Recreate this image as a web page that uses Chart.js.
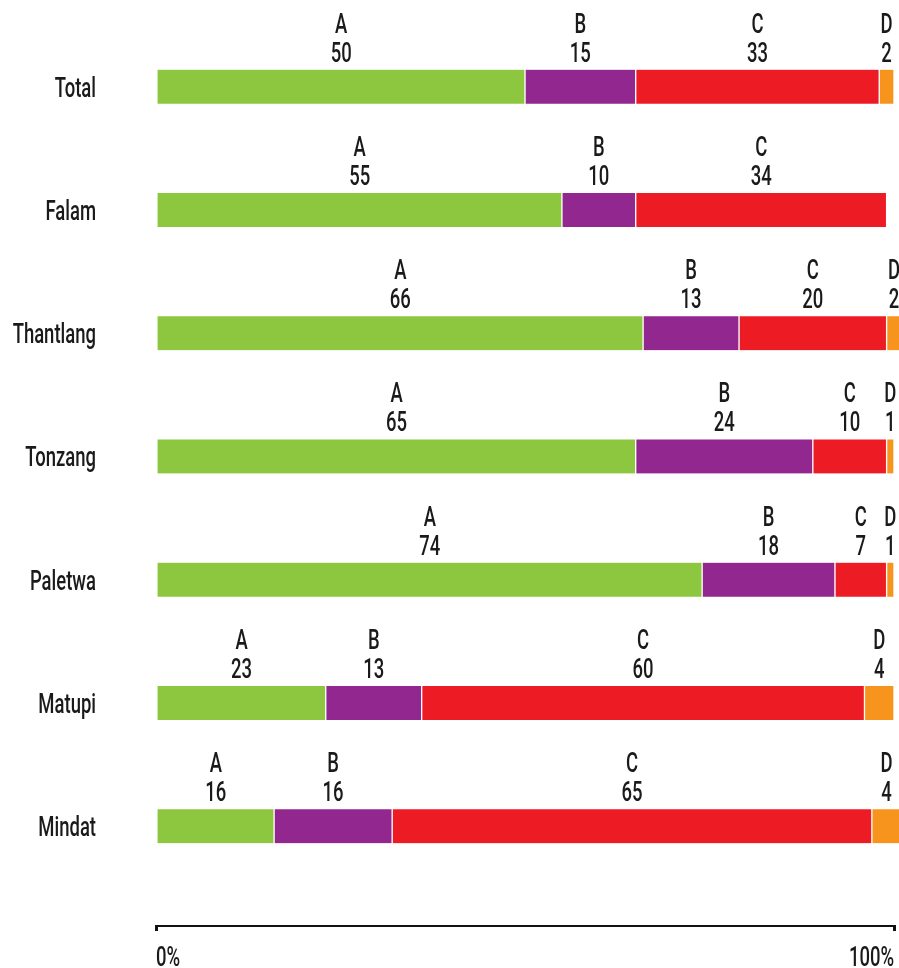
<!DOCTYPE html>
<html>
<head>
<meta charset="utf-8">
<script src="https://cdn.jsdelivr.net/npm/chart.js@4"></script>
<style>
  html, body { margin: 0; padding: 0; background: #fff; }
  #wrap { width: 899px; height: 968px; }
</style>
</head>
<body>
<div id="wrap"><canvas id="districtChart" width="899" height="968"></canvas></div>
<script>
const categories = ['Total', 'Falam', 'Thantlang', 'Tonzang', 'Paletwa', 'Matupi', 'Mindat'];
const seriesNames = ['A', 'B', 'C', 'D'];
const valuesA = [50, 55, 66, 65, 74, 23, 16];
const valuesB = [15, 10, 13, 24, 18, 13, 16];
const valuesC = [33, 34, 20, 10, 7, 60, 65];
const valuesD = [2, null, 2, 1, 1, 4, 4];
const axisTicks = [0, 100];
const axisTickLabels = ['0%', '100%'];

const colors = ['#8dc63f', '#92278f', '#ed1c24', '#f7941d'];
const TEXT_FONT = '500 28px Roboto, "Liberation Sans", sans-serif';
const SQUEEZE = 0.66; // no condensed face installed, so narrow the glyphs by hand
const TEXT_COLOR = '#1a1a1a';

const allValues = [valuesA, valuesB, valuesC, valuesD];

const datasets = allValues.map((vals, i) => ({
    label: seriesNames[i],
    data: vals.map((v, j) => ({ x: v, y: j })),
    backgroundColor: colors[i],
    borderColor: '#ffffff',
    borderWidth: { left: i === 0 ? 0 : 1, right: 1, top: 0, bottom: 0 },
    borderSkipped: false,
    barThickness: 34,
    clip: false
}));

function narrowText(ctx, text, x, y, align) {
    ctx.save();
    ctx.translate(x, y);
    ctx.scale(SQUEEZE, 1);
    ctx.textAlign = align;
    ctx.fillText(text, 0, 0);
    ctx.restore();
}

// category names, axis labels, and letter + value above each segment
const textLayer = {
    id: 'textLayer',
    afterDraw(chart) {
        const ctx = chart.ctx;
        const xs = chart.scales.x;
        const ys = chart.scales.y;
        ctx.save();
        ctx.fillStyle = TEXT_COLOR;
        ctx.font = TEXT_FONT;
        ctx.textBaseline = 'alphabetic';

        categories.forEach((name, i) => {
            narrowText(ctx, name, ys.right - 60, ys.getPixelForValue(i) + 10, 'right');
        });

        axisTicks.forEach((v, i) => {
            const align = i === 0 ? 'left' : 'right';
            narrowText(ctx, axisTickLabels[i], xs.getPixelForValue(v), xs.top + 40, align);
        });

        chart.data.datasets.forEach((ds, i) => {
            const meta = chart.getDatasetMeta(i);
            meta.data.forEach((bar, j) => {
                const v = allValues[i][j];
                if (v === null || v === undefined) return;
                const cx = (bar.x + bar.base) / 2;
                narrowText(ctx, seriesNames[i], cx, bar.y - 54, 'center');
                narrowText(ctx, String(v), cx, bar.y - 25, 'center');
            });
        });
        ctx.restore();
    }
};

new Chart(document.getElementById('districtChart'), {
    type: 'bar',
    data: { datasets: datasets },
    plugins: [textLayer],
    options: {
        indexAxis: 'y',
        responsive: false,
        animation: false,
        layout: { padding: { top: 25, right: 5, left: 0, bottom: 0 } },
        plugins: { legend: { display: false }, tooltip: { enabled: false } },
        scales: {
            y: {
                type: 'linear',
                reverse: true,
                stacked: true,
                offset: false,
                min: -0.5,
                max: 6.81,
                grid: { display: false, drawTicks: false, offset: false },
                border: { display: false },
                afterBuildTicks: scale => { scale.ticks = categories.map((c, i) => ({ value: i })); },
                afterFit: scale => { scale.width = 156; scale.paddingTop = 0; scale.paddingBottom = 0; },
                ticks: { display: false }
            },
            x: {
                type: 'linear',
                stacked: true,
                min: 0,
                max: 100,
                border: { display: true, color: '#111', width: 2 },
                grid: { drawOnChartArea: false, drawTicks: true, tickLength: 5, color: '#111', lineWidth: 3 },
                afterBuildTicks: scale => { scale.ticks = axisTicks.map(v => ({ value: v })); },
                afterFit: scale => { scale.height = 42; scale.paddingLeft = 0; scale.paddingRight = 0; },
                ticks: { display: false }
            }
        }
    }
});
</script>
</body>
</html>
